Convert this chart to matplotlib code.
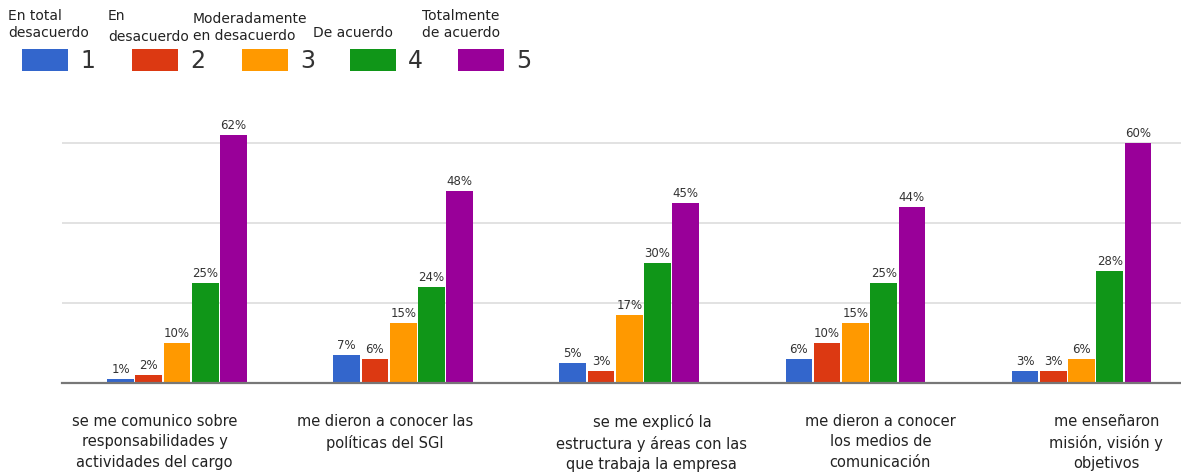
import numpy as np
import matplotlib.pyplot as plt
from matplotlib.patches import Rectangle
from matplotlib.transforms import blended_transform_factory

# data (percent)
categories = [
    "se me comunico sobre\nresponsabilidades y\nactividades del cargo",
    "me dieron a conocer las\npolíticas del SGI",
    "se me explicó la\nestructura y áreas con las\nque trabaja la empresa",
    "me dieron a conocer\nlos medios de\ncomunicación",
    "me enseñaron\nmisión, visión y\nobjetivos",
]
s1 = [1, 7, 5, 6, 3]
s2 = [2, 6, 3, 10, 3]
s3 = [10, 15, 17, 15, 6]
s4 = [25, 24, 30, 25, 28]
s5 = [62, 48, 45, 44, 60]
series = [s1, s2, s3, s4, s5]
legend_nums = ["1", "2", "3", "4", "5"]
legend_desc = ["En total\ndesacuerdo", "En\ndesacuerdo", "Moderadamente\nen desacuerdo",
               "De acuerdo", "Totalmente\nde acuerdo"]

colors = ["#3366CC", "#DC3912", "#FF9900", "#109618", "#990099"]
label_shift = [-0.10, -0.08, 0.10, 0.11, 0.11]

fig = plt.figure(figsize=(11.81, 4.77), dpi=100)
ax = fig.add_axes([62 / 1181, 1 - 384 / 477, 1 - 62 / 1181, 280 / 477])

x = np.arange(len(categories))
pitch = 0.125
width = 0.118
for i, (vals, c) in enumerate(zip(series, colors)):
    pos = x + (i - 2) * pitch
    bars = ax.bar(pos, vals, width=width, color=c, zorder=3)
    for b, v in zip(bars, vals):
        ax.annotate(f"{v}%", (b.get_x() + b.get_width() / 2, v), xytext=(0, 3),
                    textcoords="offset points", ha="center", va="bottom",
                    fontsize=8.5, color="#333333", zorder=4)

ax.set_xlim(-0.509, 4.44)
ax.set_ylim(0, 70)
ax.set_yticks([20, 40, 60])
ax.yaxis.grid(True, color="#dddddd", linewidth=1.2, zorder=0)
ax.set_xticks([])
ax.tick_params(left=False, labelleft=False)
for sp in ["top", "right", "left"]:
    ax.spines[sp].set_visible(False)
ax.spines["bottom"].set_color("#777777")
ax.spines["bottom"].set_linewidth(1.6)
ax.spines["bottom"].set_zorder(5)

tr = blended_transform_factory(ax.transData, ax.transAxes)
for xi, lab, sh in zip(x, categories, label_shift):
    ax.text(xi + sh, -0.107, lab, transform=tr, ha="center", va="top",
            fontsize=10.5, color="#222222", linespacing=1.45)

# legend drawn by hand: description, colored box, number
W, H = 1181, 477
desc_pos = [(8, 9), (108, 9), (193, 12), (313, 26), (422, 9)]
desc_ls = [1.25, 1.6, 1.3, 1.2, 1.25]
box_x = [22, 132, 242, 350, 458]
for d, (dx, dy), ls, bx, n, c in zip(legend_desc, desc_pos, desc_ls, box_x, legend_nums, colors):
    fig.text(dx / W, 1 - dy / H, d, ha="left", va="top", fontsize=10,
             color="#222222", linespacing=ls)
    fig.patches.append(Rectangle((bx / W, 1 - 72 / H), 46 / W, 22 / H,
                                 transform=fig.transFigure, facecolor=c,
                                 edgecolor="none"))
    fig.text((bx + 58) / W, 1 - 61 / H, n, ha="left", va="center",
             fontsize=17, color="#333333")

fig.savefig("out.png", dpi=100)
